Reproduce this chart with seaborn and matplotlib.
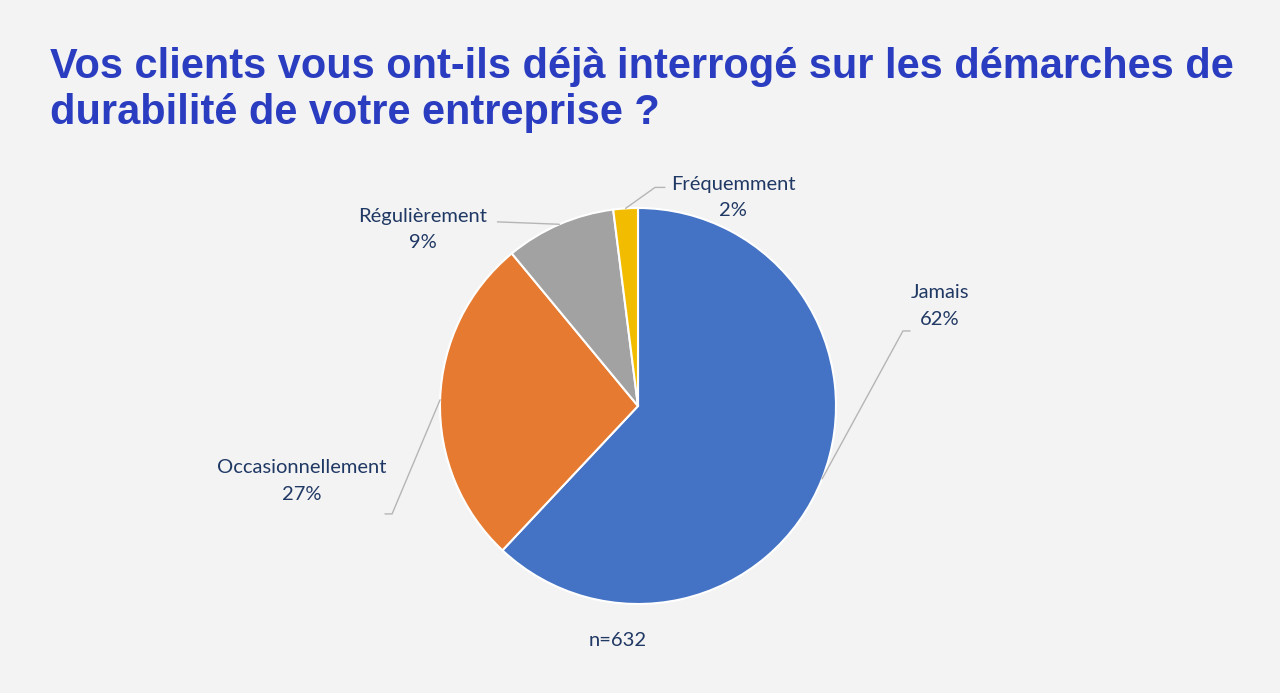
import numpy as np
import matplotlib
matplotlib.use("Agg")
import matplotlib.pyplot as plt
import seaborn as sns

# data
categories = ["Jamais", "Occasionnellement", "Régulièrement", "Fréquemment"]
shares = [62, 27, 9, 2]
colors = ["#4472c4", "#e57a30", "#a2a2a2", "#f2bd00"]
title = "Vos clients vous ont-ils déjà interrogé sur les démarches de\ndurabilité de votre entreprise ?"
note = "n=632"

sns.set_theme(style="white")
plt.rcParams["font.family"] = ["Lato", "DejaVu Sans"]

bg = "#f3f3f3"
label_color = "#203864"

fig = plt.figure(figsize=(12.8, 6.93), dpi=100, facecolor=bg)

# pie axes: centre (638, 406) px, radius 198 px
W, H = 1280, 693
cx, cy, r = 638, 406, 198
ax = fig.add_axes([(cx - r) / W, (H - cy - r) / H, 2 * r / W, 2 * r / H])
ax.set_facecolor(bg)

wedges, _ = ax.pie(shares, colors=colors, startangle=90, counterclock=False,
                   radius=1, wedgeprops=dict(edgecolor="white", linewidth=1.5))
ax.set_xlim(-1, 1)
ax.set_ylim(-1, 1)
ax.set_aspect("equal")
ax.axis("off")

# label layout (data units of the pie axes): text centre, elbow point, end point
layout = {
    "Jamais": dict(text=(1.525, 0.505), elbow=(1.338, 0.379), end=(1.374, 0.379)),
    "Occasionnellement": dict(text=(-1.697, -0.379), elbow=(-1.242, -0.545), end=(-1.278, -0.545)),
    "Régulièrement": dict(text=(-1.086, 0.891), elbow=(-0.71, 0.93), end=(-0.71, 0.93)),
    "Fréquemment": dict(text=(0.48, 1.053), elbow=(0.086, 1.104), end=(0.136, 1.104)),
}

for w, cat, val in zip(wedges, categories, shares):
    ang = np.deg2rad((w.theta1 + w.theta2) / 2)
    sx, sy = np.cos(ang) * 1.0, np.sin(ang) * 1.0
    lay = layout[cat]
    ex, ey = lay["elbow"]
    nx, ny = lay["end"]
    ax.plot([sx, ex, nx], [sy, ey, ny], color="#b5b5b5", lw=1.0, clip_on=False)
    tx, ty = lay["text"]
    ax.text(tx, ty, f"{cat}\n{val}%", ha="center", va="center", fontsize=14.5,
            color=label_color, linespacing=1.7)

fig.text(50 / W, 1 - 47 / H, title, ha="left", va="top", fontsize=29.9,
         fontweight="bold", color="#2a3cc0", family=["Liberation Sans", "DejaVu Sans"],
         linespacing=1.18)

fig.text(618 / W, 1 - 640 / H, note, ha="center", va="center", fontsize=14.5,
         color=label_color)

fig.savefig("out.png", dpi=100, facecolor=bg)
